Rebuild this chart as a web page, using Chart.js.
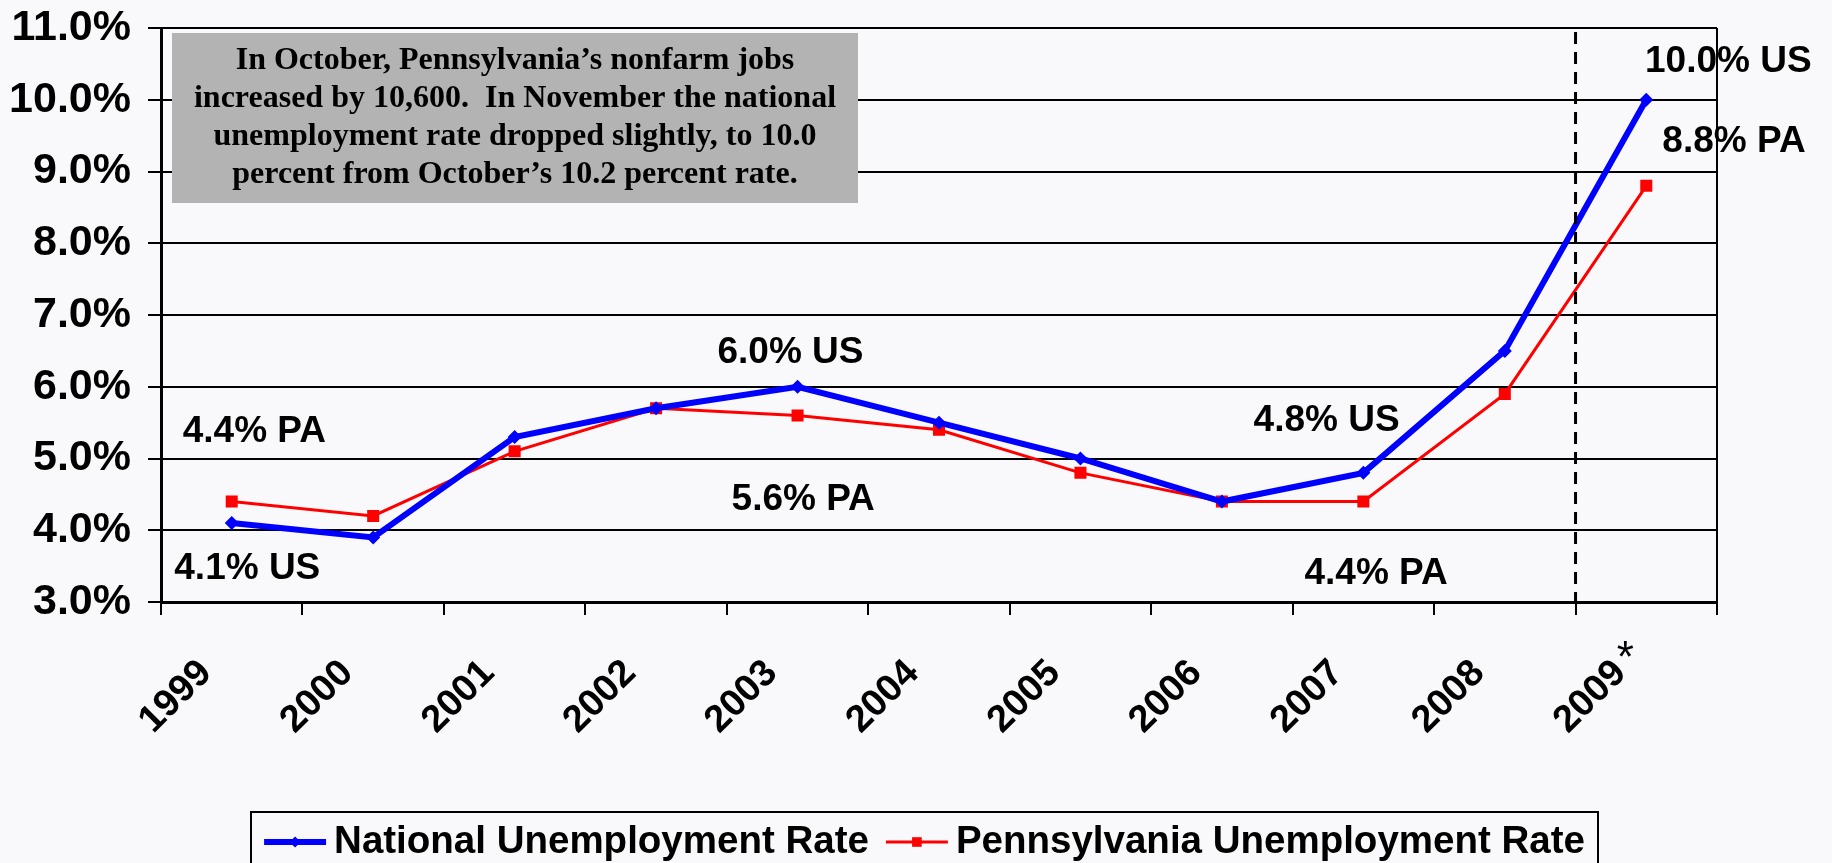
<!DOCTYPE html>
<html>
<head>
<meta charset="utf-8">
<script src="https://cdn.jsdelivr.net/npm/chart.js@4"></script>
<style>
  html, body { margin: 0; padding: 0; background: #f9f9fb; }
  canvas { display: block; }
</style>
</head>
<body>
<canvas id="myChart" width="1832" height="863"></canvas>
<script>
// categories and series
var years = ['1999', '2000', '2001', '2002', '2003', '2004', '2005', '2006', '2007', '2008', '2009*'];
var usRate = [4.1, 3.9, 5.3, 5.7, 6.0, 5.5, 5.0, 4.4, 4.8, 6.5, 10.0];
var paRate = [4.4, 4.2, 5.1, 5.7, 5.6, 5.4, 4.8, 4.4, 4.4, 5.9, 8.8];

var noteLines = [
  'In October, Pennsylvania\u2019s nonfarm jobs',
  'increased by 10,600.  In November the national',
  'unemployment rate dropped slightly, to 10.0',
  'percent from October\u2019s 10.2 percent rate.'
];

// callout texts, placed at (category index, value)
var callouts = [
  { text: '4.4% PA', x: 0.16, y: 5.37 },
  { text: '4.1% US', x: 0.11, y: 3.46 },
  { text: '6.0% US', x: 3.95, y: 6.47 },
  { text: '5.6% PA', x: 4.04, y: 4.42 },
  { text: '4.8% US', x: 7.74, y: 5.53 },
  { text: '4.4% PA', x: 8.09, y: 3.39 },
  { text: '10.0% US', x: 10.58, y: 10.53 },
  { text: '8.8% PA', x: 10.62, y: 9.41 }
];

var sans = "'Liberation Sans', Arial, sans-serif";
var serif = "'Liberation Serif', 'Times New Roman', serif";

var extras = {
  id: 'extras',
  beforeDraw: function(chart) {
    var ctx = chart.ctx;
    ctx.save();
    ctx.fillStyle = '#f9f9fb';
    ctx.fillRect(0, 0, chart.width, chart.height);
    ctx.restore();
  },
  beforeDatasetsDraw: function(chart) {
    var ctx = chart.ctx, a = chart.chartArea;
    // note box
    var bx = a.left + 11, by = a.top + 5, bw = 686, bh = 170;
    ctx.save();
    ctx.fillStyle = '#b3b3b3';
    ctx.fillRect(bx, by, bw, bh);
    ctx.fillStyle = '#000';
    ctx.font = 'bold 32px ' + serif;
    ctx.textAlign = 'center';
    ctx.textBaseline = 'middle';
    noteLines.forEach(function(t, i) {
      ctx.fillText(t, bx + bw / 2, by + 28 + i * 38);
    });
    ctx.restore();
  },
  afterDatasetsDraw: function(chart) {
    var ctx = chart.ctx, a = chart.chartArea, xs = chart.scales.x;
    ctx.save();
    // right frame line
    ctx.strokeStyle = '#000';
    ctx.lineWidth = 2;
    ctx.beginPath();
    ctx.moveTo(a.right, a.top);
    ctx.lineTo(a.right, a.bottom);
    ctx.stroke();
    // dashed separator before the estimate year
    var dx = (xs.getPixelForValue(9) + xs.getPixelForValue(10)) / 2;
    ctx.lineWidth = 3;
    ctx.setLineDash([12, 8]);
    ctx.beginPath();
    ctx.moveTo(dx, a.top + 4);
    ctx.lineTo(dx, a.bottom);
    ctx.stroke();
    ctx.restore();
  },
  afterDraw: function(chart) {
    var ctx = chart.ctx, xs = chart.scales.x, ys = chart.scales.y;
    ctx.save();
    ctx.fillStyle = '#000';
    ctx.font = 'bold 37px ' + sans;
    ctx.textAlign = 'center';
    ctx.textBaseline = 'middle';
    callouts.forEach(function(c) {
      ctx.fillText(c.text, xs.getPixelForValue(c.x), ys.getPixelForValue(c.y));
    });
    // footnote asterisk on tick labels
    ctx.font = '44px ' + sans;
    ctx.textBaseline = 'alphabetic';
    years.forEach(function(y, i) {
      if (y.slice(-1) === '*') {
        ctx.fillText('*', xs.getPixelForValue(i) - 21, ys.bottom + 70);
      }
    });

    // legend box
    var lx = 251, ly = 812, lw = 1347;
    ctx.strokeStyle = '#000';
    ctx.lineWidth = 2;
    ctx.strokeRect(lx, ly, lw, 70);
    ctx.font = 'bold 38.5px ' + sans;
    ctx.textAlign = 'left';
    ctx.textBaseline = 'middle';
    var items = chart.data.datasets;
    var seg = 62, gap = 8, between = 17;
    var widths = items.map(function(d) { return seg + gap + ctx.measureText(d.label).width; });
    var total = widths[0] + widths[1] + between;
    var x = lx + lw / 2 - total / 2, ym = 842;
    items.forEach(function(d, i) {
      ctx.strokeStyle = d.borderColor;
      ctx.lineWidth = d.borderWidth;
      ctx.beginPath();
      ctx.moveTo(x, ym);
      ctx.lineTo(x + seg, ym);
      ctx.stroke();
      ctx.fillStyle = d.borderColor;
      Chart.helpers.drawPoint(ctx, {
        pointStyle: d.pointStyle, radius: d.pointRadius * 0.8, borderWidth: 0
      }, x + seg / 2, ym);
      ctx.fillStyle = '#000';
      ctx.fillText(d.label, x + seg + gap, ym);
      x += widths[i] + between;
    });
    ctx.restore();
  }
};

var ctxMain = document.getElementById('myChart').getContext('2d');
var chart = new Chart(ctxMain, {
  type: 'line',
  data: {
    labels: years,
    datasets: [{
      label: 'National Unemployment Rate',
      data: usRate,
      borderColor: '#0000ff',
      backgroundColor: '#0000ff',
      borderWidth: 6,
      pointStyle: 'rectRot',
      pointRadius: 7,
      pointBorderWidth: 0,
      tension: 0
    }, {
      label: 'Pennsylvania Unemployment Rate',
      data: paRate,
      borderColor: '#ff0000',
      backgroundColor: '#ff0000',
      borderWidth: 3,
      pointStyle: 'rect',
      pointRadius: 8.5,
      pointBorderWidth: 0,
      tension: 0
    }]
  },
  options: {
    responsive: false,
    animation: false,
    devicePixelRatio: 1,
    layout: { padding: { left: 0, right: 115, top: 28, bottom: 111 } },
    plugins: {
      legend: { display: false },
      tooltip: { enabled: false }
    },
    scales: {
      x: {
        offset: true,
        afterFit: function(s) { s.height = 150; },
        grid: {
          offset: true,
          drawOnChartArea: false,
          tickLength: 13,
          tickColor: '#000',
          lineWidth: 2
        },
        border: { color: '#000', width: 3 },
        ticks: {
          color: '#000',
          font: { family: sans, size: 38, weight: 'bold' },
          minRotation: 45,
          maxRotation: 45,
          padding: 36,
          labelOffset: -26,
          autoSkip: false,
          callback: function(v, i) { return years[i].replace('*', ''); }
        }
      },
      y: {
        min: 3,
        max: 11,
        afterFit: function(s) { s.width = 161; s.paddingTop = 0; s.paddingBottom = 0; },
        grid: {
          color: '#000',
          lineWidth: 2,
          tickLength: 13,
          tickColor: '#000'
        },
        border: { color: '#000', width: 3 },
        ticks: {
          stepSize: 1,
          color: '#000',
          padding: 17,
          font: { family: sans, size: 43, weight: 'bold' },
          callback: function(v) { return v.toFixed(1) + '%'; }
        }
      }
    }
  },
  plugins: [extras]
});
</script>
</body>
</html>
